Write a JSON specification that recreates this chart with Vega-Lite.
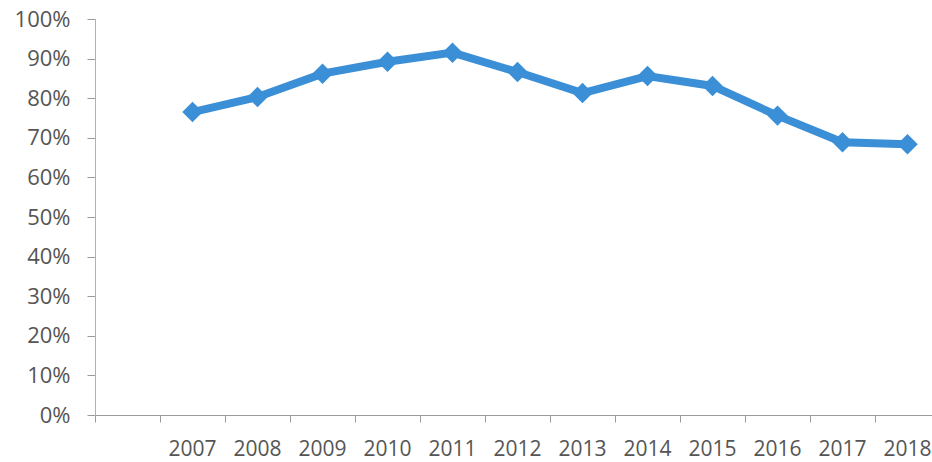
{
  "$schema": "https://vega.github.io/schema/vega-lite/v6.json",
  "autosize": {"type": "none"},
  "width": 837,
  "height": 396,
  "padding": {"left": 95, "top": 19, "right": 0, "bottom": 47},
  "background": "white",
  "config": {"view": {"stroke": null}},
  "data": {
    "values": [
      {"year": "2007", "value": 0.765},
      {"year": "2008", "value": 0.803},
      {"year": "2009", "value": 0.862},
      {"year": "2010", "value": 0.892},
      {"year": "2011", "value": 0.915},
      {"year": "2012", "value": 0.866},
      {"year": "2013", "value": 0.813},
      {"year": "2014", "value": 0.856},
      {"year": "2015", "value": 0.831},
      {"year": "2016", "value": 0.756},
      {"year": "2017", "value": 0.689},
      {"year": "2018", "value": 0.684}
    ]
  },
  "encoding": {
    "x": {
      "field": "year",
      "type": "nominal",
      "sort": null,
      "scale": {
        "type": "band",
        "domain": ["", "2007", "2008", "2009", "2010", "2011", "2012", "2013", "2014", "2015", "2016", "2017", "2018"],
        "range": [0, 845],
        "paddingInner": 0,
        "paddingOuter": 0
      },
      "axis": {
        "title": null,
        "labelAngle": 0,
        "bandPosition": 0,
        "grid": false,
        "domainColor": "#9a9a9a",
        "tickColor": "#9a9a9a",
        "tickSize": 7,
        "labelPadding": 16,
        "labelFont": "Open Sans",
        "labelFontSize": 21,
        "labelColor": "#555555",
        "labelOverlap": false
      }
    },
    "y": {
      "field": "value",
      "type": "quantitative",
      "scale": {"domain": [0, 1], "nice": false},
      "axis": {
        "title": null,
        "format": ".0%",
        "values": [0, 0.1, 0.2, 0.3, 0.4, 0.5, 0.6, 0.7, 0.8, 0.9, 1.0],
        "grid": false,
        "domainColor": "#b0b0b0",
        "tickColor": "#9a9a9a",
        "tickSize": 8,
        "labelPadding": 17,
        "labelFont": "Open Sans",
        "labelFontSize": 22,
        "labelColor": "#555555"
      }
    }
  },
  "layer": [
    {
      "mark": {"type": "line", "color": "#3b8fd6", "strokeWidth": 8}
    },
    {
      "mark": {"type": "point", "shape": "diamond", "filled": true, "opacity": 1, "color": "#3b8fd6", "size": 420}
    }
  ]
}
